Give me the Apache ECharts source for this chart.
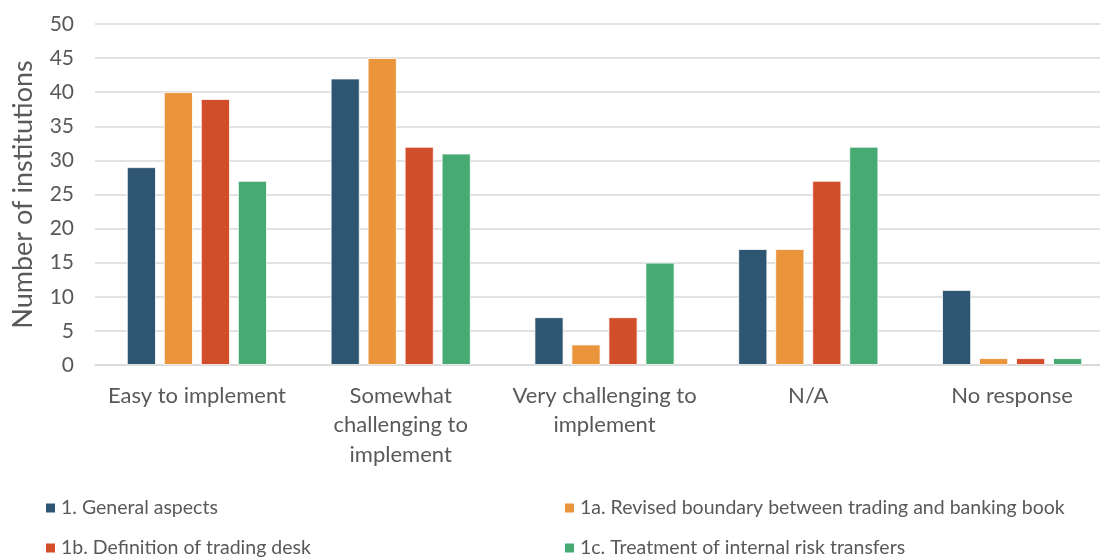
<!DOCTYPE html>
<html>
<head>
<meta charset="utf-8">
<script src="https://cdn.jsdelivr.net/npm/echarts@6/dist/echarts.min.js"></script>
<style>
  html, body { margin: 0; padding: 0; background: #fff; overflow: hidden; }
  /* plot runs a little past the right edge of the window */
  #wrap { width: 1100px; height: 558px; overflow: hidden; }
  #chart { width: 1114px; height: 558px; }
</style>
</head>
<body>
<div id="wrap"><div id="chart"></div></div>
<script>
const categories = [
  'Easy to implement',
  'Somewhat\nchallenging to\nimplement',
  'Very challenging to\nimplement',
  'N/A',
  'No response'
];
const seriesNames = [
  '1. General aspects',
  '1a. Revised boundary between trading and banking book',
  '1b. Definition of trading desk',
  '1c. Treatment of internal risk transfers'
];
const generalAspects = [29, 42, 7, 17, 11];
const revisedBoundary = [40, 45, 3, 17, 1];
const tradingDesk = [39, 32, 7, 27, 1];
const riskTransfers = [27, 31, 15, 32, 1];
const yTicks = [0, 5, 10, 15, 20, 25, 30, 35, 40, 45, 50];

const colors = ['#2E5572', '#EA943B', '#D24E2B', '#47AA73'];
const values = [generalAspects, revisedBoundary, tradingDesk, riskTransfers];
const FONT = 'Lato';
const TEXT = '#595959';

// legend laid out as a 2x2 block: one legend component per entry
const legendSlots = [
  { left: 44, top: 498 },   // 1. General aspects
  { left: 563, top: 498 },  // 1a.
  { left: 44, top: 538 },   // 1b.
  { left: 563, top: 538 }   // 1c.
];

const chart = echarts.init(document.getElementById('chart'));
chart.setOption({
  animation: false,
  textStyle: { fontFamily: FONT },
  grid: { left: 95, right: 0, top: 24, bottom: 193 },
  legend: seriesNames.map((name, i) => ({
    data: [name],
    left: legendSlots[i].left, top: legendSlots[i].top,
    padding: 0,
    itemWidth: 11, itemHeight: 11, itemGap: 0, icon: 'rect',
    textStyle: { fontFamily: FONT, fontSize: 19.5, color: TEXT, padding: [0, 0, 0, 0] }
  })),
  xAxis: {
    type: 'category',
    data: categories,
    axisLine: { show: true, lineStyle: { color: '#d9d9d9', width: 1.5 } },
    axisTick: { show: false },
    axisLabel: {
      fontFamily: FONT, fontSize: 22, color: TEXT, lineHeight: 29.5,
      margin: 16, interval: 0
    }
  },
  yAxis: {
    type: 'value',
    min: yTicks[0], max: yTicks[yTicks.length - 1], interval: 5,
    name: 'Number of institutions',
    nameLocation: 'middle', nameGap: 58,
    nameTextStyle: { fontFamily: FONT, fontSize: 27, color: TEXT },
    axisLine: { show: false },
    axisTick: { show: false },
    axisLabel: { fontFamily: FONT, fontSize: 21, color: TEXT, margin: 21 },
    splitLine: { lineStyle: { color: '#d9d9d9', width: 1.5 } }
  },
  series: values.map((v, i) => ({
    name: seriesNames[i],
    type: 'bar',
    data: v,
    barWidth: 29,
    barGap: '27.6%',
    itemStyle: { color: colors[i], borderColor: '#ffffff', borderWidth: 0.8 }
  }))
});
</script>
</body>
</html>
